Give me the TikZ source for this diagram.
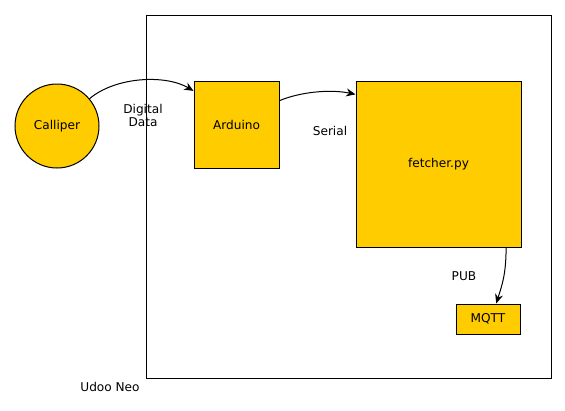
\documentclass[tikz,border=0pt]{standalone}
\usepackage{fontspec}
\setmainfont{DejaVu Sans}
\usetikzlibrary{arrows.meta}
\definecolor{boxfill}{HTML}{FFCC00}
\begin{document}
\begin{tikzpicture}[x=0.75pt,y=-0.75pt,
  every node/.style={font=\fontsize{9.1pt}{9.8pt}\selectfont, inner sep=0pt},
  blk/.style={draw=black, fill=boxfill, line width=0.75pt},
  lbl/.style={align=center},
  conn/.style={-{Stealth[length=7pt,width=6pt]}, line width=0.75pt}]
\useasboundingbox (0,0) rectangle (565,411);
\node[draw=black, line width=0.75pt, minimum width=405*0.75pt, minimum height=363*0.75pt] (udoo) at (348.5,196.5) {};
\node[blk, circle, minimum size=84*0.75pt] (calliper) at (57,126) {Calliper};
\node[blk, minimum width=85*0.75pt, minimum height=87*0.75pt] (arduino) at (236.5,124.5) {Arduino};
\node[blk, minimum width=165*0.75pt, minimum height=166*0.75pt] (fetcher) at (438.5,164) {fetcher.py};
\node[blk, minimum width=64*0.75pt, minimum height=30*0.75pt] (mqtt) at (488,319) {MQTT};
\node[lbl] (ldigital) at (143,115.5) {Digital\\Data};
\node[lbl] (lserial) at (330,131) {Serial};
\node[lbl] (lpub) at (464,276) {PUB};
\node[lbl] (ludoo) at (110,387) {Udoo Neo};
\draw[conn] (calliper.40) .. controls (115,77) and (165,74) .. (arduino.142);
\draw[conn] (arduino.29) .. controls (300,92) and (330,89) .. (fetcher.140);
\draw[conn] (fetcher.-51) .. controls (506,275) and (502,285) .. (mqtt.62);
\end{tikzpicture}
\end{document}
